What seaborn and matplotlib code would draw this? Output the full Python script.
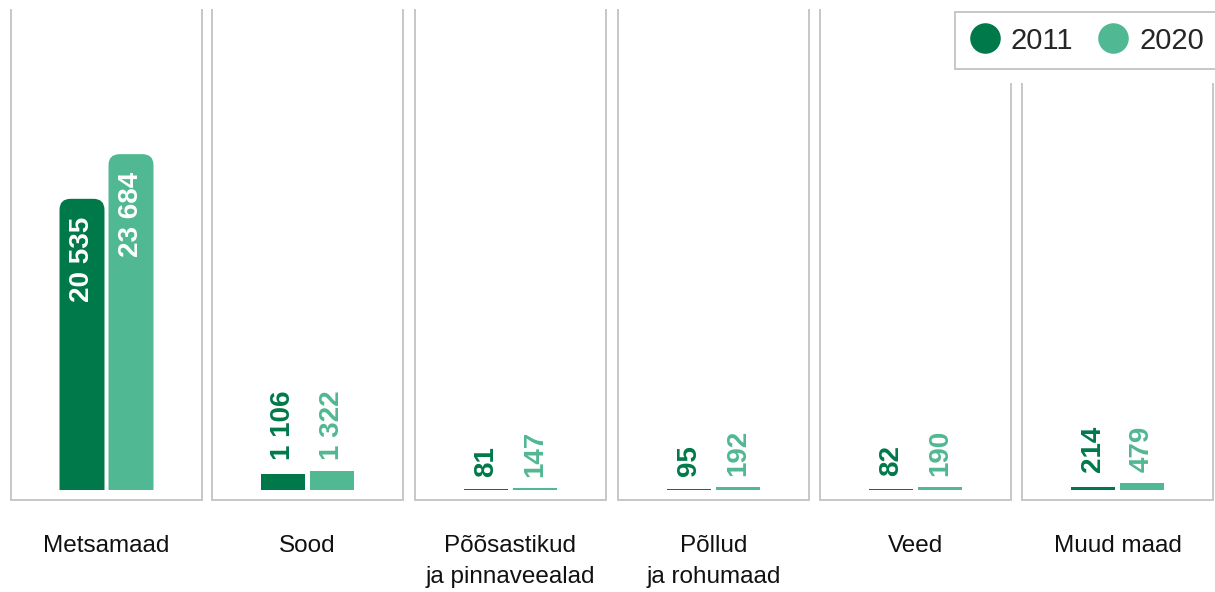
import matplotlib
matplotlib.use("Agg")
import matplotlib.pyplot as plt
from matplotlib.patches import FancyBboxPatch, Rectangle
from matplotlib.lines import Line2D
import seaborn as sns
import pandas as pd

# ---- data ----
categories = ["Metsamaad", "Sood", "Põõsastikud\nja pinnaveealad",
              "Põllud\nja rohumaad", "Veed", "Muud maad"]
years = ["2011", "2020"]
values_2011 = [20535, 1106, 81, 95, 82, 214]
values_2020 = [23684, 1322, 147, 192, 190, 479]
colors = {"2011": "#00794A", "2020": "#50B892"}

sns.set_style("white")
plt.rcParams["font.family"] = ["Liberation Sans", "DejaVu Sans"]

W, H = 1215, 592
fig = plt.figure(figsize=(W / 100, H / 100), dpi=100)


def fx(px):
    return px / W


def fy(py):
    return 1 - py / H


panel_left = [11, 212, 415, 618, 820, 1022]
panel_w = 191
top_px, bottom_px = 10, 500
ymin, ymax = -705, 33850
xlim = (-1.449, 2.449)
border = "#c8c8c8"
r_px = 11

for i, cat in enumerate(categories):
    ax = fig.add_axes([fx(panel_left[i]), fy(bottom_px), panel_w / W,
                       (bottom_px - top_px) / H])
    vals = [values_2011[i], values_2020[i]]
    df = pd.DataFrame({"year": years, "value": vals})
    sns.barplot(data=df, x="year", y="value", hue="year", order=years,
                hue_order=years, palette=colors, width=0.918, ax=ax,
                legend=False, saturation=1, linewidth=0)
    ax.set_xlim(*xlim)
    ax.set_ylim(ymin, ymax)
    ax.set_xticks([])
    ax.set_yticks([])
    ax.set_xlabel("")
    ax.set_ylabel("")
    ax.spines["top"].set_visible(False)
    for s in ("left", "right", "bottom"):
        ax.spines[s].set_color(border)
        ax.spines[s].set_linewidth(1.44)

    sx = panel_w / (xlim[1] - xlim[0])
    sy = (bottom_px - top_px) / (ymax - ymin)

    # rounded tops for tall bars (square bottoms via clipping)
    for p in list(ax.patches):
        x0, w, h = p.get_x(), p.get_width(), p.get_height()
        p.set_linewidth(0)
        if h * sy > 3 * r_px:
            rx = r_px / sx
            ry = r_px / sy
            fb = FancyBboxPatch((x0, -2 * ry), w, h + 2 * ry,
                                boxstyle=f"round,pad=0,rounding_size={rx}",
                                mutation_aspect=ry / rx,
                                facecolor=p.get_facecolor(),
                                edgecolor="none", linewidth=0)
            ax.add_patch(fb)
            clip = Rectangle((x0 - w, 0), 3 * w, h * 2,
                             transform=ax.transData)
            fb.set_clip_path(clip)
            p.set_visible(False)

    pair_max = max(vals)
    for j, (yr, v) in enumerate(zip(years, vals)):
        txt = f"{v:,}".replace(",", " ")
        if v * sy > 120:
            ax.annotate(txt, xy=(j, v), xytext=(0, -18),
                        textcoords="offset pixels", rotation=90,
                        ha="center", va="top", color="white",
                        fontsize=20, fontweight="bold")
        else:
            ax.annotate(txt, xy=(j, pair_max), xytext=(0, 11),
                        textcoords="offset pixels", rotation=90,
                        ha="center", va="bottom", color=colors[yr],
                        fontsize=20, fontweight="bold")

    ax.text(0.5, -35 / (bottom_px - top_px), cat, transform=ax.transAxes,
            ha="center", va="top", fontsize=17.5, color="#111111",
            linespacing=1.55)

# mask behind legend
fig.add_artist(Rectangle((fx(948), fy(83)), (W - 948) / W, 83 / H,
                         transform=fig.transFigure, facecolor="white",
                         edgecolor="none", zorder=4))

handles = [Line2D([], [], marker="o", linestyle="none", markersize=22,
                  markerfacecolor=colors[y], markeredgecolor="none")
           for y in years]
leg = fig.legend(handles, years, loc="upper left",
                 bbox_to_anchor=(fx(955), fy(12)), ncol=2, frameon=True,
                 fancybox=False, edgecolor=border, framealpha=1, fontsize=21,
                 borderpad=0.5, handlelength=1.05, handletextpad=0.36,
                 columnspacing=0.85, borderaxespad=0)
leg.get_frame().set_linewidth(1.44)
leg.set_zorder(6)

fig.savefig("out.png", dpi=100)
